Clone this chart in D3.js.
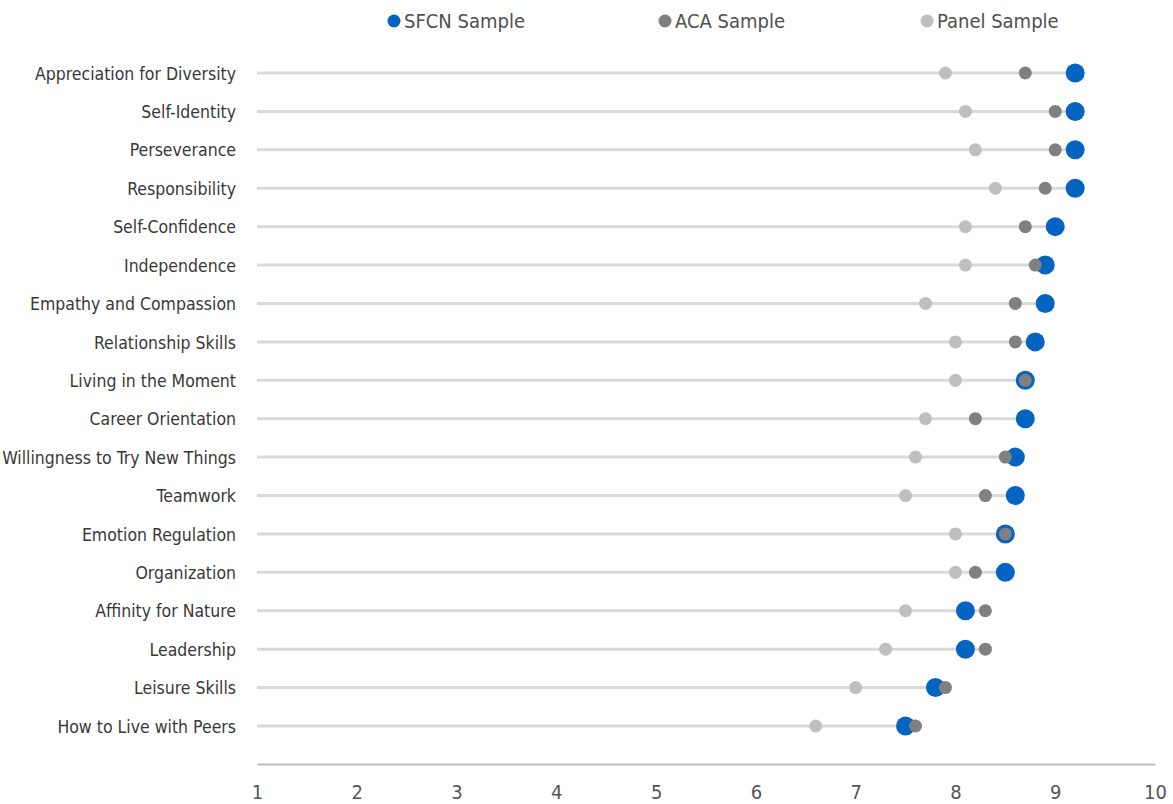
<!DOCTYPE html>
<html><head><meta charset="utf-8">
<script src="https://cdn.jsdelivr.net/npm/d3@7"></script>
<style>
body{margin:0;background:#fff;}
svg text{font-family:"DejaVu Sans Condensed","Liberation Sans Narrow","Roboto",sans-serif;}
</style></head><body>
<svg id="c" width="1173" height="804"></svg>
<script>
const categories = ["Appreciation for Diversity","Self-Identity","Perseverance","Responsibility","Self-Confidence","Independence","Empathy and Compassion","Relationship Skills","Living in the Moment","Career Orientation","Willingness to Try New Things","Teamwork","Emotion Regulation","Organization","Affinity for Nature","Leadership","Leisure Skills","How to Live with Peers"];
const sfcn  = [9.2,9.2,9.2,9.2,9.0,8.9,8.9,8.8,8.7,8.7,8.6,8.6,8.5,8.5,8.1,8.1,7.8,7.5];
const aca   = [8.7,9.0,9.0,8.9,8.7,8.8,8.6,8.6,8.7,8.2,8.5,8.3,8.5,8.2,8.3,8.3,7.9,7.6];
const panel = [7.9,8.1,8.2,8.4,8.1,8.1,7.7,8.0,8.0,7.7,7.6,7.5,8.0,8.0,7.5,7.3,7.0,6.6];
const seriesNames = ["SFCN Sample","ACA Sample","Panel Sample"];
const xTicks = [1,2,3,4,5,6,7,8,9,10];

const svg = d3.select("#c");
const x = d3.scaleLinear().domain([1,10]).range([257,1155]);
const y = d3.scalePoint().domain(categories).range([73,726]);
const colors = ["#0563C1","#808080","#BFBFBF"];
const radii = [9.5,6.5,6.5];
const series = [sfcn, aca, panel];

// lines
svg.append("g").selectAll("line").data(categories).join("line")
  .attr("x1", x(1)).attr("x2", (d,i)=>x(Math.max(sfcn[i],aca[i],panel[i])))
  .attr("y1", d=>y(d)).attr("y2", d=>y(d))
  .attr("stroke","#d9d9d9").attr("stroke-width",3);

// x axis
const xa = svg.append("g").attr("transform","translate(0,764)")
  .call(d3.axisBottom(x).tickValues(xTicks).tickSize(0).tickPadding(21).tickFormat(d3.format("d")));
xa.select(".domain").attr("stroke","#bfbfbf").attr("stroke-width",2);
xa.selectAll("text").attr("fill","#555555").style("font-size","20px");

// y labels
const ya = svg.append("g").attr("transform","translate(257,0)")
  .call(d3.axisLeft(y).tickSize(0).tickPadding(21));
ya.select(".domain").remove();
ya.selectAll("text").attr("fill","#383838").style("font-size","17.5px").attr("dy","0.35em");

// points
series.forEach((s,k)=>{
  svg.append("g").selectAll("circle").data(s).join("circle")
    .attr("cx", d=>x(d)).attr("cy",(d,i)=>y(categories[i]))
    .attr("r", radii[k]).attr("fill", colors[k]);
});

// legend
const lx = [394,665,927];
const lg = svg.append("g");
seriesNames.forEach((n,k)=>{
  lg.append("circle").attr("cx",lx[k]).attr("cy",21).attr("r",6.5).attr("fill",colors[k]);
  lg.append("text").attr("x",lx[k]+10).attr("y",21).attr("dy","0.35em")
    .attr("fill","#505050").style("font-size","20px").text(n);
});
</script></body></html>
